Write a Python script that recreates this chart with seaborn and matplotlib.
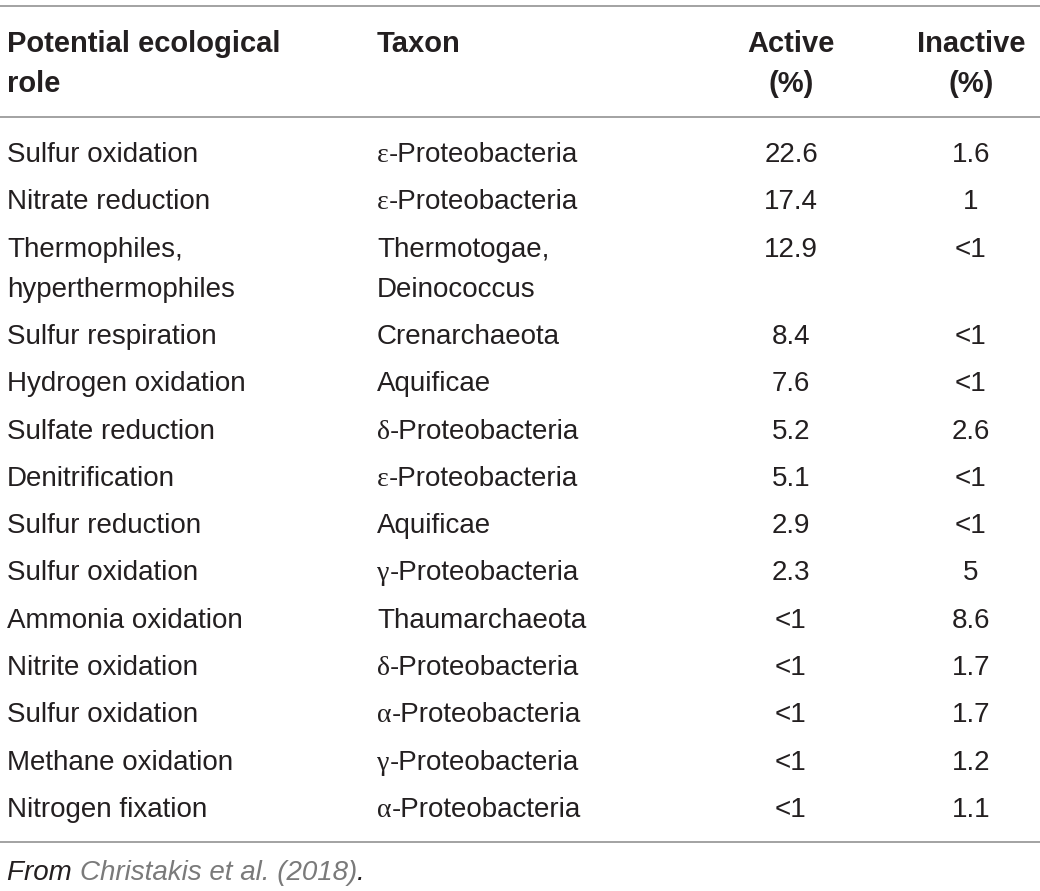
import matplotlib
matplotlib.use("Agg")
import matplotlib.pyplot as plt
import seaborn as sns

# table content
header = ["Potential ecological\nrole", "Taxon", "Active\n(%)", "Inactive\n(%)"]

roles = [
    "Sulfur oxidation", "Nitrate reduction", "Thermophiles,\nhyperthermophiles",
    "Sulfur respiration", "Hydrogen oxidation", "Sulfate reduction",
    "Denitrification", "Sulfur reduction", "Sulfur oxidation",
    "Ammonia oxidation", "Nitrite oxidation", "Sulfur oxidation",
    "Methane oxidation", "Nitrogen fixation",
]
taxa = [
    "ε-Proteobacteria", "ε-Proteobacteria", "Thermotogae,\nDeinococcus",
    "Crenarchaeota", "Aquificae", "δ-Proteobacteria",
    "ε-Proteobacteria", "Aquificae", "γ-Proteobacteria",
    "Thaumarchaeota", "δ-Proteobacteria", "α-Proteobacteria",
    "γ-Proteobacteria", "α-Proteobacteria",
]
active = ["22.6", "17.4", "12.9", "8.4", "7.6", "5.2", "5.1", "2.9", "2.3",
          "<1", "<1", "<1", "<1", "<1"]
inactive = ["1.6", "1", "<1", "<1", "<1", "2.6", "<1", "<1", "5",
            "8.6", "1.7", "1.7", "1.2", "1.1"]

source_pre = "From "
source_ref = "Christakis et al. (2018)"
source_post = "."

GREEK = "αβγδεζ"
TEXT = "#231f20"
RULE = "#9b9b9b"
LINK = "#7a7a7a"

sns.set_theme(style="white")
plt.rcParams["font.family"] = ["Liberation Sans", "DejaVu Sans"]

W, H = 1040, 891
fig = plt.figure(figsize=(W / 100, H / 100), dpi=100)
ax = fig.add_axes([0, 0, 1, 1])
ax.set_xlim(0, W)
ax.set_ylim(H, 0)
ax.axis("off")
renderer = fig.canvas.get_renderer()

x_role, x_taxon, x_act, x_inact = 7, 377, 791, 971
body_fs, head_fs = 20, 21
line_gap, row_gap = 40, 47.3


def hline(y):
    ax.plot([0, W], [y, y], color=RULE, lw=1.3, solid_capstyle="butt")


def right_edge(t):
    bb = t.get_window_extent(renderer)
    return ax.transData.inverted().transform((bb.x1, bb.y0))[0]


def chain(x, y, parts, **kw):
    # draw text pieces one after another on the same baseline
    for s, extra in parts:
        opts = dict(kw)
        opts.update(extra)
        t = ax.text(x, y, s, va="baseline", ha="left", **opts)
        x = right_edge(t)
    return x


def taxon_text(x, y, s):
    if s[0] in GREEK:
        chain(x, y, [(s[0], {"family": ["Liberation Serif"]}), (s[1:], {})],
              fontsize=body_fs, color=TEXT)
    else:
        ax.text(x, y, s, va="baseline", ha="left", fontsize=body_fs,
                color=TEXT, linespacing=1.43)


# rules and header
hline(6)
head_base = 52
for label, x, ha in zip(header, [x_role, x_taxon, x_act, x_inact],
                        ["left", "left", "center", "center"]):
    for j, part in enumerate(label.split("\n")):
        ax.text(x, head_base + j * line_gap, part, ha=ha, va="baseline",
                fontsize=head_fs, fontweight="bold", color=TEXT)
hline(117)

# body rows
y = 162
for role, tax, a, ina in zip(roles, taxa, active, inactive):
    for j, part in enumerate(role.split("\n")):
        ax.text(x_role, y + j * line_gap, part, ha="left", va="baseline",
                fontsize=body_fs, color=TEXT)
    for j, part in enumerate(tax.split("\n")):
        taxon_text(x_taxon, y + j * line_gap, part)
    ax.text(x_act, y, a, ha="center", va="baseline", fontsize=body_fs, color=TEXT)
    ax.text(x_inact, y, ina, ha="center", va="baseline", fontsize=body_fs, color=TEXT)
    n_lines = max(role.count("\n"), tax.count("\n"))
    y += row_gap + n_lines * line_gap

hline(y - row_gap + 25)

# source note
chain(x_role, y - row_gap + 63,
      [(source_pre, {"color": TEXT}), (source_ref, {"color": LINK}),
       (source_post, {"color": TEXT})],
      fontsize=body_fs, style="italic")

fig.savefig("out.png", dpi=100, facecolor="white")
